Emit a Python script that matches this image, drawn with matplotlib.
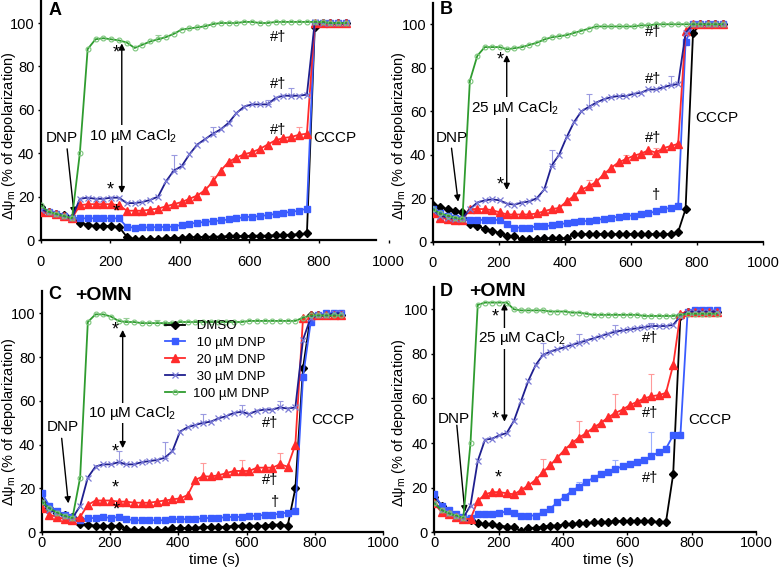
import matplotlib.pyplot as plt

plt.rcParams['font.family'] = ['Liberation Sans', 'DejaVu Sans']
plt.rcParams['mathtext.fontset'] = 'custom'
plt.rcParams['mathtext.rm'] = 'Liberation Sans'
plt.rcParams['mathtext.it'] = 'Liberation Sans:italic'

# sampling times (s)
time_s = [0, 22.5, 45, 67.5, 90, 112.5, 135, 157.5, 180, 202.5, 225, 247.5, 270, 292.5,
          315, 337.5, 360, 382.5, 405, 427.5, 450, 472.5, 495, 517.5, 540, 562.5, 585,
          607.5, 630, 652.5, 675, 697.5, 720, 742.5, 765, 787.5, 810, 832.5, 855, 877.5]

labels = [' DMSO', ' 10 µM DNP', ' 20 µM DNP', ' 30 µM DNP', '100 µM DNP']

# panel A (10 uM CaCl2)
a_dmso = [15, 13, 12, 11.5, 10, 8, 7, 6.5, 6.5, 6.5, 6, 1.5, 0.5, 0.5, 0.3, 0.5, 0.8, 1, 1, 1.2,
          1.3, 1.5, 1.5, 1.6, 1.7, 1.8, 1.8, 2, 2, 2, 2.2, 2.3, 2.5, 2.6, 3, 98, 100, 100, 100, 100]
a_dnp10 = [14, 13, 12, 11, 10, 10, 10, 10, 10, 10, 10, 6, 5.7, 5.8, 5.8, 6, 6, 6.2, 7, 7.5,
           8, 8.3, 8.7, 9, 9.5, 10, 10.5, 10.8, 11, 11.5, 12, 12.5, 13, 13.5, 14.5, 100, 100, 100, 100, 100]
a_dnp20 = [13, 13, 12, 11, 10, 16, 16.5, 16.5, 16.5, 16.5, 16, 13.5, 13.5, 13.5, 14, 14.5, 15.5, 16.5, 17.5, 19,
           20.5, 23, 27, 32, 36, 38, 39.5, 40.5, 42, 44, 46, 47, 47.5, 48.5, 49, 100, 100, 100, 100, 100]
a_dnp30 = [14, 13, 12, 11, 10, 19, 19.5, 19, 19, 19.5, 19.5, 17, 17, 17.5, 18.5, 20, 27, 32, 34, 39.5,
           44, 46.5, 49, 51, 54, 58.5, 61.5, 62.5, 62.5, 62.5, 65.5, 66.5, 66.5, 66.5, 67, 100.5, 100, 100, 100, 100]
a_dnp100 = [16, 13, 12, 11, 10, 40, 88, 92.5, 93, 92.5, 92, 91, 88.5, 90, 91.5, 92.5, 93.5, 95, 97, 97.5,
            98, 98.5, 99.5, 100, 100, 100, 100.5, 100.5, 100, 100, 100.5, 100.5, 100.5, 100.5, 100.5, 100.5, 100.5, 100, 100, 100]

# panel B (25 uM CaCl2)
b_dmso = [17, 16, 15, 14, 13.5, 8, 7, 6, 5, 4, 2.5, 2.5, 1, 1, 1.2, 1.5, 1.5, 1.5, 1.5, 3.5,
          3.5, 3.5, 3.5, 3.5, 3.5, 3.5, 3.5, 3.5, 3.5, 3.5, 3.5, 3.5, 3.5, 4.5, 15, 96, 100, 100, 100, 100]
b_dnp10 = [15, 13, 12, 11, 10.5, 10, 10, 10, 10, 10, 8, 6.5, 6.5, 6.5, 7, 7, 7.5, 8, 8.5, 9,
           9.5, 9.5, 10, 10.5, 11, 11.5, 12, 12, 12.5, 13, 14, 15, 15.5, 16.5, 92, 100, 100, 100, 100, 100]
b_dnp20 = [13, 11, 10.5, 10, 10, 15, 15, 15, 14.5, 13.5, 12.5, 12.5, 12.5, 12.5, 13, 14, 15, 15.5, 18.5, 21,
           24, 25.5, 27.5, 31, 34, 36.5, 38, 39.5, 40.5, 42, 41, 43, 44, 45, 97, 100, 100, 100, 100, 100]
b_dnp30 = [14, 12, 11, 10.5, 10.5, 15, 18, 19, 19.5, 19, 17.5, 17, 18, 18.5, 20, 24, 35, 40, 48, 55,
           60, 62, 64, 65.5, 66.5, 67, 67, 68, 68.5, 70, 70, 71, 72, 72.5, 96, 100, 100, 100, 100, 100]
b_dnp100 = [15, 13, 12, 11, 10.5, 74, 85.5, 89.5, 89.5, 89.5, 88.5, 89, 89.5, 90.5, 91.5, 93, 94, 94.5, 95, 96,
            97, 98, 99, 99, 99, 99, 99, 99, 99.5, 99.5, 100, 100, 100, 100, 100, 100, 100, 100, 100, 100]

# panel C (+OMN, 10 uM CaCl2)
c_dmso = [14, 11, 9, 8, 7, 4, 3.5, 3, 3, 3, 3, 1.5, 1, 1, 1, 1, 1, 2, 2, 2,
          2, 2.5, 2.5, 2.5, 2.5, 3, 3, 3, 3, 3, 3.5, 3.5, 3, 20, 75, 99, 99, 99, 99, 99]
c_dnp10 = [18, 12, 9.5, 8, 7, 5.5, 6.5, 6.5, 7, 6.5, 7, 6, 5.5, 5.5, 5.5, 5.5, 5.5, 6, 6, 6,
           6, 6.5, 6.5, 6.5, 7, 7, 7, 7.5, 7.5, 8, 8, 8.5, 9, 9.5, 71, 96, 99, 100, 100, 100]
c_dnp20 = [11, 8, 7, 6, 5.5, 7, 12.5, 14.5, 14.5, 14.5, 14, 14, 13.5, 13.5, 13.5, 14, 14.5, 15, 15.5, 17,
           24, 25.5, 25.5, 26, 27, 28, 28, 28, 29.5, 29.5, 29.5, 31, 30, 40, 98, 99, 99, 99, 99, 99]
c_dnp30 = [14, 10, 9, 7.5, 6.5, 12, 25, 30, 31, 31, 32, 31, 31, 32, 32.5, 33, 34, 37, 46, 48,
           49, 50, 50.5, 52, 53, 54.5, 55, 54, 55.5, 56, 56, 57, 56.5, 57, 88, 98, 99, 99, 100, 100]
c_dnp100 = [14, 11, 9, 7.5, 6.5, 25, 96, 99.5, 99.5, 98.5, 96.5, 96, 96, 95.5, 95.5, 95.5, 95.5, 95.5, 96, 96,
            96, 96, 96, 96, 96, 96, 96, 96.5, 96.5, 96.5, 96.5, 96.5, 96.5, 96.5, 98, 99, 99, 99, 99, 99]

# panel D (+OMN, 25 uM CaCl2)
d_dmso = [16, 12, 9, 7.5, 6.5, 5.5, 4, 3.5, 3.5, 3, 2.5, 2.5, 0.5, 2, 2, 2.5, 3, 3, 3.5, 3.5,
          4, 4, 4.5, 4.5, 4.5, 5, 5, 5, 5, 5, 5, 4.5, 4.5, 26, 97, 99, 99, 99, 99, 99]
d_dnp10 = [17, 12, 10, 8, 7, 6.5, 8, 8, 8, 8.5, 9.5, 8.5, 7.5, 7.5, 7.5, 9, 10.5, 13.5, 16, 18.5,
           20.5, 22.5, 24.5, 26, 27, 28.5, 29.5, 30.5, 31.5, 32.5, 34, 36, 37.5, 43.5, 43.5, 99, 99.5, 99.5, 99.5, 99.5]
d_dnp20 = [13, 9, 8, 7, 6, 6, 14, 17, 18, 18, 17.5, 17, 19, 21, 23.5, 27, 30, 33.5, 37, 40,
           42.5, 44.5, 47, 49, 51.5, 53.5, 55, 57, 58.5, 60, 61, 61.5, 62.5, 75, 98, 99, 99, 99, 99, 99]
d_dnp30 = [13, 10, 8.5, 7.5, 6.5, 12, 32, 41.5, 42, 43.5, 44.5, 50, 59, 68, 75, 79.5, 81, 82, 83, 84,
           85, 86, 87, 88, 89, 90, 90.5, 91, 91.5, 92, 92.5, 92.5, 92.5, 93, 97, 99, 99, 99, 99, 99]
d_dnp100 = [13, 10, 8.5, 7.5, 6.5, 40, 102, 103, 103, 103, 103, 100, 99.5, 99.5, 99.5, 99.5, 99, 99, 99, 98.5,
            98.5, 98, 97.5, 97.5, 97.5, 97.5, 97.5, 97.5, 97.5, 97, 97, 97, 97, 97, 97.5, 98, 98, 98, 98, 98]

# upward error bars, {sample index: SEM}
a_err = [{}, {}, {22: 2.5, 33: 3.5}, {17: 7, 22: 3, 29: 2, 32: 3.5}, {15: 2}]
b_err = [{}, {}, {21: 3, 26: 2, 30: 2}, {16: 7, 21: 6, 32: 4}, {}]
c_err = [{}, {}, {21: 6, 26: 5, 31: 5}, {10: 5, 16: 7, 21: 4, 26: 3, 31: 3}, {11: 2, 15: 1.5}]
d_err = [{}, {20: 2, 25: 4, 30: 11}, {15: 6, 20: 7.5, 25: 8.5, 30: 10}, {15: 5.5, 20: 4, 25: 3, 30: 1.5}, {}]

styles = [
    dict(color='black', marker='D', ms=4.2, mec='black', mfc='black'),
    dict(color='#3a5cff', marker='s', ms=5, mec='#3a5cff', mfc='#3a5cff'),
    dict(color='#ff2b2b', marker='^', ms=6, mec='#ff2b2b', mfc='#ff2b2b'),
    dict(color='#1f1f8f', marker='x', ms=5, mec='#7a7ad6', mew=0.9),
    dict(color='#2f9c2f', marker='o', ms=3.5, mec='#7cc57c', mfc='none', mew=0.8),
]
err_colors = ['#888888', '#9db0ff', '#ff9a9a', '#9a9ae0', '#9ad09a']

fig = plt.figure(figsize=(7.81, 5.75), dpi=100)
ax_a = fig.add_axes([0.0521, 0.5826, 0.4456, 0.4151])
ax_b = fig.add_axes([0.554, 0.5797, 0.4233, 0.4159])
ax_c = fig.add_axes([0.0534, 0.0743, 0.4374, 0.419])
ax_d = fig.add_axes([0.5561, 0.0743, 0.4119, 0.4266])


def draw_panel(ax, series, errs, xpad):
    handles = []
    for vals, err, st, ec in zip(series, errs, styles, err_colors):
        if err:
            idx = sorted(err)
            ax.errorbar([time_s[i] for i in idx], [vals[i] for i in idx],
                        yerr=[[0] * len(idx), [err[i] for i in idx]],
                        fmt='none', ecolor=ec, elinewidth=0.8, capsize=2.5, capthick=0.8, zorder=2)
        h, = ax.plot(time_s, vals, lw=1.3, zorder=3, **st)
        handles.append(h)
    ax.set_xlim(0, 1000)
    ax.set_ylim(0, 110)
    ax.set_xticks([0, 200, 400, 600, 800, 1000])
    ax.set_yticks([0, 20, 40, 60, 80, 100])
    for s in ['top', 'right']:
        ax.spines[s].set_visible(False)
    for s in ['left', 'bottom']:
        ax.spines[s].set_linewidth(1.6)
    ax.tick_params(labelsize=10.5, length=2.5, width=1)
    ax.tick_params(axis='y', pad=2)
    ax.tick_params(axis='x', pad=xpad)
    ax.set_ylabel('Δψ$_\\mathregular{m}$ (% of depolarization)', fontsize=10.5, va='center')
    return handles


def arrow(ax, start, end, both=False):
    ax.annotate('', xy=end, xytext=start, zorder=1,
                arrowprops=dict(arrowstyle='<|-|>' if both else '-|>', color='black', lw=1,
                                shrinkA=0, shrinkB=0, mutation_scale=9))


def marks(ax, stars, hashes, dagger=None):
    for x, y in stars:
        ax.text(x, y, '*', fontsize=13, ha='center', va='center')
    for x, y in hashes:
        ax.text(x, y, '#†', fontsize=10.5, ha='center', va='center')
    if dagger:
        ax.text(dagger[0], dagger[1], '†', fontsize=10.5, ha='center', va='center')


def ca_label(ax, x, y, txt):
    ax.text(x, y, txt, fontsize=11, ha='center', va='center', zorder=1.5,
            bbox=dict(facecolor='white', edgecolor='none', pad=1))


# A
draw_panel(ax_a, [a_dmso, a_dnp10, a_dnp20, a_dnp30, a_dnp100], a_err, 8)
ax_a.spines['bottom'].set_bounds(0, 963)
ax_a.yaxis.set_label_coords(-0.092, 0.436)
ax_a.text(41, 106, 'A', fontsize=13, fontweight='bold', ha='center', va='center')
ax_a.text(62, 47, 'DNP', fontsize=11, ha='center', va='center')
arrow(ax_a, (76, 42), (96, 12))
ca_label(ax_a, 265, 48, '10 µM CaCl$_2$')
arrow(ax_a, (233, 21.6), (233, 90.6), both=True)
marks(ax_a, [(216, 86), (199, 23), (218, 13)], [(683, 93.7), (683, 72), (683, 50.7)])
ax_a.text(783, 46.8, 'CCCP', fontsize=11, ha='left', va='center')

# B
draw_panel(ax_b, [b_dmso, b_dnp10, b_dnp20, b_dnp30, b_dnp100], b_err, 8)
ax_b.yaxis.set_label_coords(-0.102, 0.442)
ax_b.text(42, 106.6, 'B', fontsize=13, fontweight='bold', ha='center', va='center')
ax_b.text(57, 47.5, 'DNP', fontsize=11, ha='center', va='center')
arrow(ax_b, (57, 43), (77, 18.4))
ca_label(ax_b, 249, 61.7, '25 µM CaCl$_2$')
arrow(ax_b, (224, 23.8), (224, 85.9), both=True)
marks(ax_b, [(204, 83.6), (204, 26)], [(667, 96.6), (667, 75), (667, 47.6)], dagger=(677, 21.5))
ax_b.text(793, 57, 'CCCP', fontsize=11, ha='left', va='center')

# C
handles = draw_panel(ax_c, [c_dmso, c_dnp10, c_dnp20, c_dnp30, c_dnp100], c_err, 0.5)
ax_c.yaxis.set_label_coords(-0.097, 0.459)
ax_c.set_xlabel('time (s)', fontsize=11, va='center')
ax_c.xaxis.set_label_coords(0.507, -0.116)
ax_c.text(39, 108.6, 'C', fontsize=13, fontweight='bold', ha='center', va='center', clip_on=False)
ax_c.text(180, 108, '+OMN', fontsize=14, fontweight='bold', ha='center', va='center', clip_on=False)
ax_c.text(61, 47.9, 'DNP', fontsize=11, ha='center', va='center')
arrow(ax_c, (58.5, 42.9), (78, 13.2))
ca_label(ax_c, 263.5, 54.5, '10 µM CaCl$_2$')
arrow(ax_c, (237, 38.4), (237, 92.4), both=True)
marks(ax_c, [(215, 92.4), (215, 36.8), (215, 20), (219, 10.2)], [(668, 49.8), (668, 23.9)], dagger=(683, 14))
ax_c.text(790, 51.3, 'CCCP', fontsize=11, ha='left', va='center')
ax_c.legend(handles, labels, loc='upper left', bbox_to_anchor=(0.361, 0.881), frameon=False,
            fontsize=9.5, borderpad=0, borderaxespad=0, handlelength=1.5, handletextpad=0.6,
            labelspacing=0.35, numpoints=1)

# D
draw_panel(ax_d, [d_dmso, d_dnp10, d_dnp20, d_dnp30, d_dnp100], d_err, 0.5)
ax_d.yaxis.set_label_coords(-0.11, 0.446)
ax_d.set_xlabel('time (s)', fontsize=11, va='center')
ax_d.xaxis.set_label_coords(0.54, -0.114)
ax_d.text(36, 108, 'D', fontsize=13, fontweight='bold', ha='center', va='center', clip_on=False)
ax_d.text(195, 108, '+OMN', fontsize=14, fontweight='bold', ha='center', va='center', clip_on=False)
ax_d.text(61, 50.8, 'DNP', fontsize=11, ha='center', va='center')
arrow(ax_d, (70, 48), (95, 9))
ca_label(ax_d, 272, 86.9, '25 µM CaCl$_2$')
arrow(ax_d, (218, 49.6), (218, 102.7), both=True)
marks(ax_d, [(189, 96.7), (189, 51), (199, 24.2)], [(670, 87), (670, 53.4), (670, 24.2)])
ax_d.text(789, 50.4, 'CCCP', fontsize=11, ha='left', va='center')

fig.savefig('out.png', dpi=100)
